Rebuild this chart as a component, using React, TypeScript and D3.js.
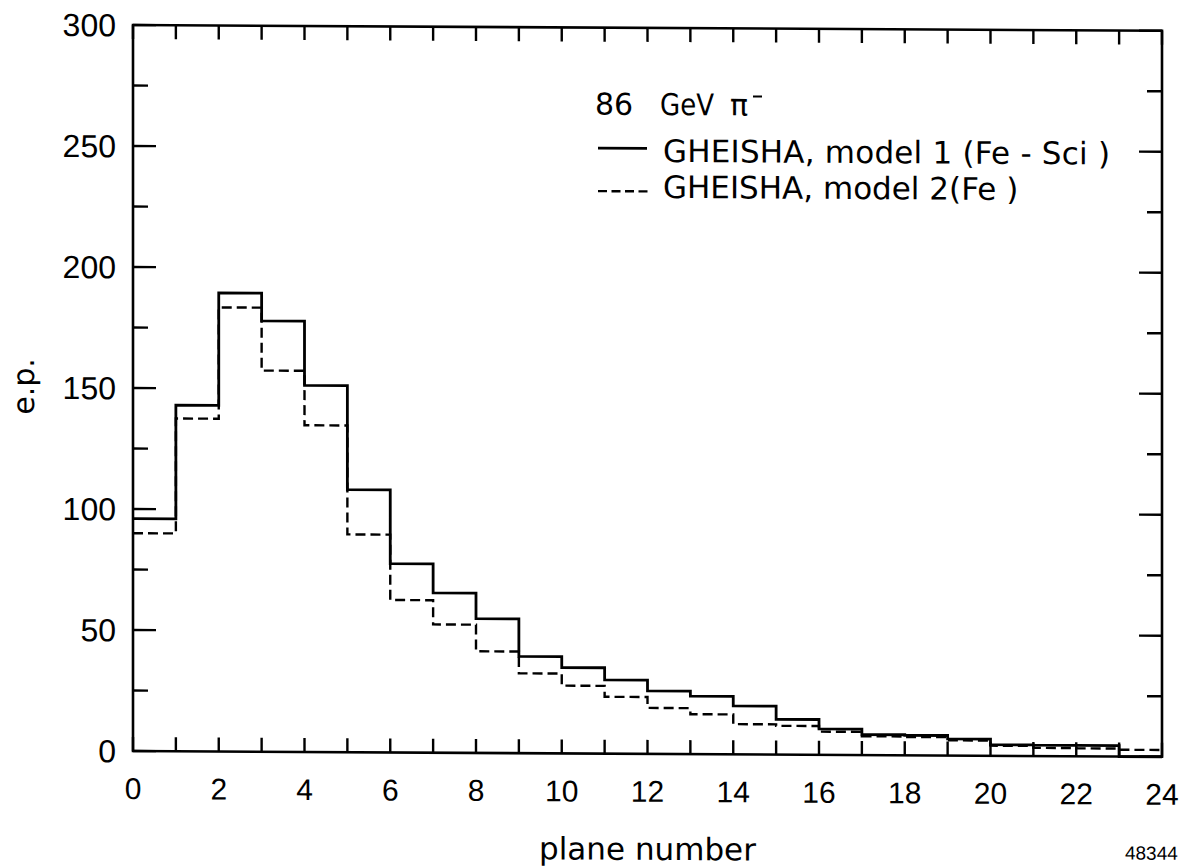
import React from "react";
import * as d3 from "d3";

// plane number bins 0..23, energy deposit (e.p.)
const model1 = [96, 143, 189.5, 178, 151.5, 108.5, 78, 66, 55.5, 40, 35.5, 30.5, 26, 24, 20, 14.6, 10.7, 8.5, 8.3, 6.9, 4.6, 4.5, 4.5, 0];
const model2 = [90, 137.5, 183.5, 157.5, 135, 90, 63, 53, 42, 33, 28, 23.5, 19, 16.5, 12.5, 11.9, 9.6, 7.8, 7.6, 6.3, 4.2, 3.4, 3.3, 2.8];
const xTickLabels = [0, 2, 4, 6, 8, 10, 12, 14, 16, 18, 20, 22, 24];
const yTickLabels = [0, 50, 100, 150, 200, 250, 300];
const legendTitle = ["86", "GeV", "π"];
const legendLabels = ["GHEISHA, model 1 (Fe - Sci )", "GHEISHA, model 2(Fe )"];

const W = 1187;
const H = 868;
const L = 133, R = 1162, T = 25, B = 751;
const shear = 0.0056;

export default function App() {
  const x = d3.scaleLinear().domain([0, 24]).range([L, R]);
  const y = d3.scaleLinear().domain([0, 300]).range([B, T]);

  const stepPath = (vals: number[]) => {
    const pts: [number, number][] = vals.map((v, i) => [i, v]);
    pts.push([vals.length, vals[vals.length - 1]]);
    return d3
      .line<[number, number]>()
      .x((d) => x(d[0]))
      .y((d) => y(d[1]))
      .curve(d3.curveStepAfter)(pts) as string;
  };

  const xTicks = d3.range(0, 25);
  const yTicks = d3.range(0, 301, 25);
  const sans = "'Liberation Sans', Arial, sans-serif";
  const dv = "'DejaVu Sans', sans-serif";

  return (
    <svg
      width={W}
      height={H}
      style={{ position: "absolute", left: 0, top: 0, background: "#fff" }}
    >
      <rect x={0} y={0} width={W} height={H} fill="#fff" />
      <g transform={`matrix(1,${shear},0,1,0,${-L * shear})`}>
        {/* histograms */}
        <path d={stepPath(model2)} fill="none" stroke="#000" strokeWidth={2.4} strokeDasharray="10,5" />
        <path d={stepPath(model1)} fill="none" stroke="#000" strokeWidth={2.8} />

        {/* frame */}
        <rect x={L} y={T} width={R - L} height={B - T} fill="none" stroke="#000" strokeWidth={2.6} />

        {/* x ticks */}
        {xTicks.map((t) => (
          <g key={"xt" + t}>
            <line x1={x(t)} x2={x(t)} y1={B} y2={B - 14} stroke="#000" strokeWidth={2.4} />
            <line x1={x(t)} x2={x(t)} y1={T} y2={T + 14} stroke="#000" strokeWidth={2.4} />
          </g>
        ))}
        {/* y ticks */}
        {yTicks.map((t) => {
          const len = t % 50 === 0 ? 23 : 15;
          return (
            <g key={"yt" + t}>
              <line x1={L} x2={L + len} y1={y(t)} y2={y(t)} stroke="#000" strokeWidth={2.4} />
              <line x1={R} x2={R - len} y1={y(t)} y2={y(t)} stroke="#000" strokeWidth={2.4} />
            </g>
          );
        })}

        {/* y tick labels */}
        {yTickLabels.map((t) => (
          <text
            key={"yl" + t}
            x={116}
            y={y(t)}
            dy="0.36em"
            textAnchor="end"
            fontFamily={sans}
            fontSize={32}
            fill="#000"
          >
            {t}
          </text>
        ))}
        {/* x tick labels */}
        {xTickLabels.map((t) => (
          <text
            key={"xl" + t}
            x={x(t)}
            y={799}
            textAnchor="middle"
            fontFamily={sans}
            fontSize={30}
            fill="#000"
          >
            {t}
          </text>
        ))}

        {/* axis titles */}
        <text x={(L + R) / 2} y={857} textAnchor="middle" fontFamily={dv} fontSize={31} fill="#000">
          plane number
        </text>
        <text
          transform="translate(34,387) rotate(-90)"
          textAnchor="middle"
          fontFamily={dv}
          fontSize={30}
          fill="#000"
        >
          e.p.
        </text>

        {/* legend */}
        <text x={595} y={112} fontFamily={dv} fontSize={30} fill="#000">{legendTitle[0]}</text>
        <text x={660} y={112} fontFamily={dv} fontSize={30} fill="#000" textLength={54} lengthAdjust="spacingAndGlyphs">{legendTitle[1]}</text>
        <text x={730} y={112} fontFamily={dv} fontSize={30} fill="#000">{legendTitle[2]}</text>
        <line x1={753} x2={762} y1={93} y2={93} stroke="#000" strokeWidth={2} />

        <line x1={598} x2={647} y1={145.5} y2={145.5} stroke="#000" strokeWidth={2.6} />
        <text x={663} y={159} fontFamily={dv} fontSize={31} fill="#000" textLength={447} lengthAdjust="spacing">
          {legendLabels[0]}
        </text>
        <line x1={598} x2={648} y1={188.5} y2={188.5} stroke="#000" strokeWidth={2.4} strokeDasharray="9,4.5" />
        <text x={663} y={195} fontFamily={dv} fontSize={31} fill="#000">
          {legendLabels[1]}
        </text>

        <text x={1125} y={854} fontFamily={sans} fontSize={19} fill="#000">48344</text>
      </g>
    </svg>
  );
}
